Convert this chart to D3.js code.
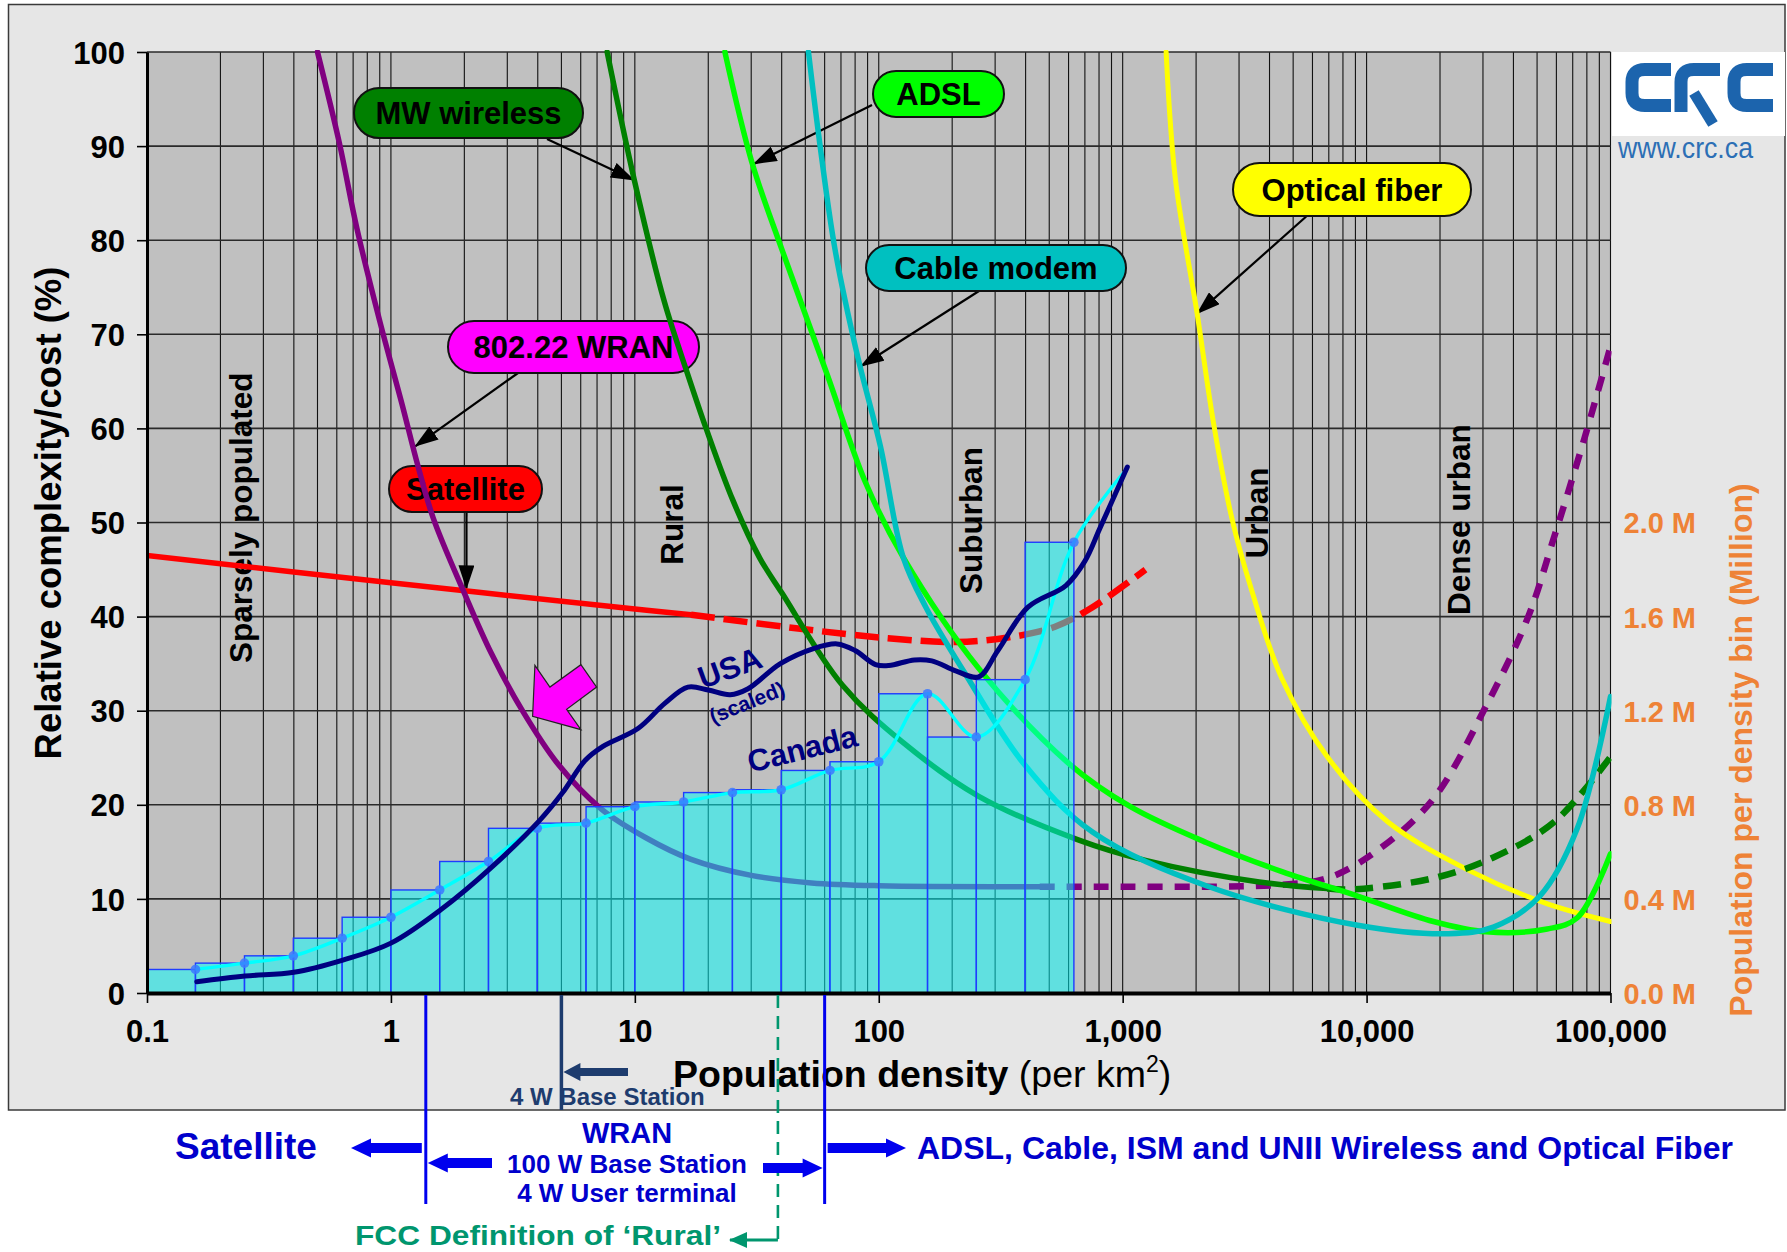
<!DOCTYPE html>
<html>
<head>
<meta charset="utf-8">
<script src="https://cdn.jsdelivr.net/npm/d3@7"></script>
<style>
  html, body { margin: 0; padding: 0; background: #fff; }
  svg { display: block; font-family: "Liberation Sans", Arial, Helvetica, sans-serif; }
</style>
</head>
<body>
<svg id="chart" width="1787" height="1252"></svg>
<script>
// ---------------------------------------------------------------
// Axis ticks
// ---------------------------------------------------------------
const xTickValues = [0.1, 1, 10, 100, 1000, 10000, 100000];
const xTickLabels = ["0.1", "1", "10", "100", "1,000", "10,000", "100,000"];
const yTickValues = [0, 10, 20, 30, 40, 50, 60, 70, 80, 90, 100];
const popTickValues = [0, 0.4, 0.8, 1.2, 1.6, 2.0];

// ---------------------------------------------------------------
// Canada: population per density bin (millions), 0.2-decade bins
// ---------------------------------------------------------------
const binEdges = [0.1, 0.158, 0.251, 0.398, 0.631, 1, 1.585, 2.512, 3.981, 6.31,
                  10, 15.85, 25.12, 39.81, 63.1, 100, 158.5, 251.2, 398.1, 631];
const canadaPop = [0.100, 0.127, 0.158, 0.233, 0.322, 0.438, 0.559, 0.700, 0.722, 0.792,
                   0.812, 0.852, 0.864, 0.946, 0.983, 1.272, 1.088, 1.332, 1.916];
const canadaTrendEnd = [1045, 2.23];

// ---------------------------------------------------------------
// Curves: [population density per km², relative complexity/cost %]
// ---------------------------------------------------------------
const usaScaled = [
  [0.16, 1.2], [0.252, 1.8], [0.4, 2.2], [0.635, 3.5], [1.0, 5.3], [1.61, 8.9],
  [2.57, 13.3], [4.09, 18.4], [5.06, 21.3], [6.25, 24.7], [7.4, 26.2], [10.3, 28.1],
  [13.3, 30.8], [16.5, 32.5], [20, 32.2], [24.6, 31.7], [29, 32.3], [39.5, 35.0],
  [54, 36.6], [67.5, 37.1], [80, 36.4], [97, 34.9], [110, 34.8], [140, 35.4],
  [165, 35.3], [208, 34.2], [257, 33.6], [308, 36.4], [409, 41.0], [585, 43.3],
  [700, 45.9], [807, 49.4], [1045, 55.9]
];
const satelliteSolid = [[0.1, 46.5], [1, 43.6], [10, 40.8], [17, 40.2]];
const satelliteDashed = [[17, 40.2], [49.7, 38.65], [109, 37.7], [208, 37.3], [343, 37.8],
                         [525, 38.9], [752, 41.0], [1240, 45.0]];
const wranSolid = [
  [0.5, 100], [0.615, 90.3], [0.726, 81.2], [0.9, 71.4], [1.11, 62.6], [1.285, 56.2],
  [1.49, 50.5], [2.0, 42.5], [2.58, 36.1], [3.46, 30.0], [4.85, 24.3], [7.25, 19.6],
  [11.1, 16.5], [17, 14.2], [30, 12.5], [53, 11.7], [100, 11.4], [457, 11.3]
];
const wranDashed = [
  [457, 11.3], [700, 11.3], [4470, 11.5], [6900, 12.2], [10600, 14.8], [18600, 20.5],
  [30900, 30.5], [46000, 40.0], [58000, 48.0], [78300, 59.0], [100000, 68.7]
];
const mwSolid = [
  [7.7, 100], [9.93, 86.5], [13.2, 73.5], [16.5, 65.7], [19.6, 60], [25.2, 52.4],
  [32.4, 46.3], [40.1, 42.5], [71, 32.7], [126, 26.6], [257, 20.9], [653, 16.3],
  [1240, 14.1], [3630, 11.8], [6900, 11.1]
];
const mwDashed = [[6900, 11.1], [8550, 11.0], [18800, 12.2], [33100, 14.4], [58900, 18.2],
                  [100000, 25.1]];
const adsl = [
  [23.4, 100], [30.1, 88.4], [40.1, 79], [61.5, 65.7], [88.1, 54.3], [126, 46.3],
  [257, 34.5], [607, 24.3], [1076, 19.8], [2200, 16.0], [4500, 12.9], [9190, 10.3],
  [18800, 7.6], [30900, 6.5], [55000, 6.8], [73100, 8.0], [100000, 14.8]
];
const cableModem = [
  [51.5, 100], [57.3, 90.3], [66.2, 79], [82, 67.6], [101.6, 58.1], [126, 46.3],
  [156, 41], [223, 34.2], [395, 24.3], [752, 17.1], [2200, 11.4], [9190, 7.2],
  [21700, 6.3], [33100, 7.0], [51300, 10.3], [73100, 17.5], [100000, 31.5]
];
const opticalFiber = [
  [1507, 100], [1645, 86.5], [2020, 72.2], [2360, 60.5], [2800, 50.5], [3370, 42.9],
  [4500, 33.4], [6900, 25.1], [12200, 18.2], [26900, 12.9], [54800, 9.5], [100000, 7.6]
];

// Density boundaries marked under the axis (per km²)
const wranLowerDensity = 1.39;
const baseStation4WDensity = 5;
const fccRuralDensity = 38.6;
const wranUpperDensity = 60;

// ---------------------------------------------------------------
// Layout
// ---------------------------------------------------------------
const W = 1787, H = 1252;
const P = { left: 147, right: 1610.5, top: 52, bottom: 993 };
const FONT = '"Liberation Sans", Arial, Helvetica, sans-serif';

const x = d3.scaleLog().domain([0.1, 100000]).range([P.left, P.right]);
const y = d3.scaleLinear().domain([0, 100]).range([P.bottom, P.top]);
const yPop = d3.scaleLinear().domain([0, 4]).range([P.bottom, P.top]);

const svg = d3.select("#chart");

svg.append("rect").attr("width", W).attr("height", H).attr("fill", "#fff");
// Grey framed panel holding the chart
svg.append("rect")
  .attr("x", 8.5).attr("y", 4.5).attr("width", 1776.5).attr("height", 1105.5)
  .attr("fill", "#e6e6e6").attr("stroke", "#3a3a3a").attr("stroke-width", 1.5);

// Plot area background
svg.append("rect")
  .attr("x", P.left).attr("y", P.top)
  .attr("width", P.right - P.left).attr("height", P.bottom - P.top)
  .attr("fill", "#c0c0c0");

const defs = svg.append("defs");
defs.append("clipPath").attr("id", "plotClip")
  .append("rect")
  .attr("x", P.left).attr("y", P.top - 2)
  .attr("width", P.right - P.left + 1).attr("height", P.bottom - P.top + 2);

// Grid
const grid = svg.append("g");
grid.selectAll("line.v").data(x.ticks()).join("line")
  .attr("x1", d => x(d)).attr("x2", d => x(d))
  .attr("y1", P.top).attr("y2", P.bottom)
  .attr("stroke", "#111").attr("stroke-width", 1.1);
grid.selectAll("line.h").data(yTickValues.slice(1)).join("line")
  .attr("x1", P.left).attr("x2", P.right)
  .attr("y1", d => y(d)).attr("y2", d => y(d))
  .attr("stroke", "#2a2a2a").attr("stroke-width", 1.6);

// Zone labels
const zones = [
  { text: "Sparsely populated", d: 0.243, v: 50.5 },
  { text: "Rural", d: 14.2, v: 49.8 },
  { text: "Suburban", d: 239, v: 50.2 },
  { text: "Urban", d: 3556, v: 51.0 },
  { text: "Dense urban", d: 23900, v: 50.3 }
];
svg.append("g").selectAll("text").data(zones).join("text")
  .attr("transform", z => `translate(${x(z.d)},${y(z.v)}) rotate(-90)`)
  .attr("text-anchor", "middle").attr("dy", "0.36em")
  .attr("font-family", FONT).attr("font-weight", "bold").attr("font-size", 31.5)
  .attr("fill", "#000").text(z => z.text);

// Arrow markers
defs.append("marker").attr("id", "blackHead")
  .attr("viewBox", "0 0 24 16").attr("refX", 23).attr("refY", 8)
  .attr("markerWidth", 24).attr("markerHeight", 16)
  .attr("markerUnits", "userSpaceOnUse").attr("orient", "auto")
  .append("path").attr("d", "M0,0 L24,8 L0,16 Z").attr("fill", "#000");
defs.append("marker").attr("id", "greenHead")
  .attr("viewBox", "0 0 18 16").attr("refX", 17).attr("refY", 8)
  .attr("markerWidth", 18).attr("markerHeight", 16)
  .attr("markerUnits", "userSpaceOnUse").attr("orient", "auto")
  .append("path").attr("d", "M0,0 L18,8 L0,16 Z").attr("fill", "#00966e");

// Callout boxes pointing at the curves
const callouts = [
  { text: "MW wireless", fill: "#008000", box: [354, 88, 229, 50], from: [547, 139], to: [9.92, 86.4] },
  { text: "ADSL", fill: "#00ff00", box: [873, 71, 131, 46], from: [872, 105], to: [30.7, 88.1] },
  { text: "Optical fiber", fill: "#ffff00", box: [1233, 163, 238, 53], from: [1309, 214], to: [2020, 72.2] },
  { text: "Cable modem", fill: "#00c0c0", box: [866, 245, 260, 46], from: [979, 291], to: [84.5, 66.6] },
  { text: "802.22 WRAN", fill: "#ff00ff", box: [448, 321, 251, 52], from: [518, 373], to: [1.258, 58.1] },
  { text: "Satellite", fill: "#ff0000", box: [389, 466, 153, 46], from: [466.5, 512], to: [2.04, 43.0] }
];
const cg = svg.append("g");
callouts.forEach(c => {
  cg.append("line")
    .attr("x1", c.from[0]).attr("y1", c.from[1])
    .attr("x2", x(c.to[0])).attr("y2", y(c.to[1]))
    .attr("stroke", "#000").attr("stroke-width", 2.2)
    .attr("marker-end", "url(#blackHead)");
  const [bx, by, bw, bh] = c.box;
  cg.append("rect")
    .attr("x", bx).attr("y", by).attr("width", bw).attr("height", bh)
    .attr("rx", bh / 2).attr("ry", bh / 2)
    .attr("fill", c.fill).attr("stroke", "#111").attr("stroke-width", 2);
  cg.append("text")
    .attr("x", bx + bw / 2).attr("y", by + bh / 2).attr("dy", "0.36em")
    .attr("text-anchor", "middle")
    .attr("font-family", FONT).attr("font-weight", "bold").attr("font-size", 31)
    .attr("fill", "#000").text(c.text);
});

// Technology curves (drawn beneath the translucent histogram)
const lineGen = d3.line()
  .x(d => x(d[0])).y(d => y(d[1]))
  .curve(d3.curveCatmullRom.alpha(0.5));
const curves = svg.append("g").attr("clip-path", "url(#plotClip)");
function drawCurve(data, color, width, dash) {
  curves.append("path").datum(data)
    .attr("d", lineGen).attr("fill", "none")
    .attr("stroke", color).attr("stroke-width", width)
    .attr("stroke-linejoin", "round")
    .attr("stroke-linecap", dash ? "butt" : "round")
    .attr("stroke-dasharray", dash || null);
}
drawCurve(satelliteSolid, "#ff0000", 5.5);
drawCurve(satelliteDashed, "#ff0000", 6.5, "24,9");
drawCurve(wranSolid, "#800080", 5.5);
drawCurve(wranDashed, "#800080", 6.5, "15,12");
drawCurve(opticalFiber, "#ffff00", 5);
drawCurve(mwSolid, "#008000", 5.5);
drawCurve(mwDashed, "#008000", 6.5, "18,10");
drawCurve(adsl, "#00ff00", 5.5);
drawCurve(cableModem, "#00c0c0", 5.5);

// Canada histogram
const bars = canadaPop.map((v, i) => ({ x0: binEdges[i], x1: binEdges[i + 1], v }));
svg.append("g").selectAll("rect").data(bars).join("rect")
  .attr("x", d => x(d.x0)).attr("width", d => x(d.x1) - x(d.x0))
  .attr("y", d => yPop(d.v)).attr("height", d => yPop(0) - yPop(d.v))
  .attr("fill", "rgba(0,255,255,0.5)")
  .attr("stroke", "#1e3cff").attr("stroke-width", 1.4);

// Canada trend line through the bin tops
const canadaPts = bars.map(d => [d.x1, d.v]);
const canadaLine = d3.line()
  .x(d => x(d[0])).y(d => yPop(d[1]))
  .curve(d3.curveCatmullRom.alpha(0.5));
svg.append("path").datum(canadaPts.concat([canadaTrendEnd]))
  .attr("d", canadaLine).attr("fill", "none")
  .attr("stroke", "#00ffff").attr("stroke-width", 3.4).attr("stroke-linejoin", "round");
svg.append("g").selectAll("circle").data(canadaPts).join("circle")
  .attr("cx", d => x(d[0])).attr("cy", d => yPop(d[1])).attr("r", 4.8)
  .attr("fill", "#3c78ff").attr("fill-opacity", 0.85);

// USA (scaled) curve
svg.append("path").datum(usaScaled)
  .attr("d", lineGen).attr("fill", "none")
  .attr("stroke", "#000080").attr("stroke-width", 5)
  .attr("stroke-linejoin", "round").attr("stroke-linecap", "round");

// Curve name labels
const curveLabels = [
  { text: "USA", d: 24.5, v: 34.6, rot: -20, size: 31 },
  { text: "(scaled)", d: 28.8, v: 30.9, rot: -22, size: 21 },
  { text: "Canada", d: 48.5, v: 26.0, rot: -14, size: 31 }
];
svg.append("g").selectAll("text").data(curveLabels).join("text")
  .attr("transform", l => `translate(${x(l.d)},${y(l.v)}) rotate(${l.rot})`)
  .attr("text-anchor", "middle").attr("dy", "0.36em")
  .attr("font-family", FONT).attr("font-weight", "bold")
  .attr("font-size", l => l.size).attr("fill", "#000080").text(l => l.text);

// Magenta block arrow pointing at the WRAN curve
const magentaTip = [3.81, 29.4];
const magentaShape = [[0, 0], [2.3, -51], [17.3, -29.3], [48.3, -51.7], [64, -29.3], [34, -7], [48.3, 13.3]];
svg.append("polygon")
  .attr("points", magentaShape.map(p => [x(magentaTip[0]) + p[0], y(magentaTip[1]) + p[1]].join(",")).join(" "))
  .attr("fill", "#ff00ff").attr("stroke", "#222").attr("stroke-width", 1.2)
  .attr("stroke-linejoin", "miter");

// Axes
const yAxis = svg.append("g").attr("transform", `translate(${P.left},0)`)
  .call(d3.axisLeft(y).tickValues(yTickValues).tickSize(10).tickSizeOuter(0).tickPadding(12));
yAxis.select(".domain").attr("stroke", "#000").attr("stroke-width", 3);
yAxis.selectAll(".tick line").attr("stroke", "#000").attr("stroke-width", 1.6);
yAxis.selectAll(".tick text")
  .attr("font-family", FONT).attr("font-weight", "bold").attr("font-size", 31)
  .attr("fill", "#000").attr("dy", "0.36em");

const xAxis = svg.append("g").attr("transform", `translate(0,${P.bottom})`)
  .call(d3.axisBottom(x).tickValues(xTickValues)
    .tickFormat((d, i) => xTickLabels[i]).tickSize(10).tickSizeOuter(0));
xAxis.select(".domain").attr("stroke", "#000").attr("stroke-width", 4);
xAxis.selectAll(".tick line").attr("stroke", "#000").attr("stroke-width", 1.6);
xAxis.selectAll(".tick text")
  .attr("font-family", FONT).attr("font-weight", "bold").attr("font-size", 31)
  .attr("fill", "#000").attr("y", 49).attr("dy", 0);

const popAxis = svg.append("g").attr("transform", `translate(${P.right},0)`)
  .call(d3.axisRight(yPop).tickValues(popTickValues).tickSize(0).tickPadding(13)
    .tickFormat(d => d.toFixed(1) + " M"));
popAxis.select(".domain").remove();
popAxis.selectAll(".tick text")
  .attr("font-family", FONT).attr("font-weight", "bold").attr("font-size", 29)
  .attr("fill", "#ee8236").attr("dy", "0.36em");

// Axis titles
svg.append("text")
  .attr("transform", "translate(48,513) rotate(-90)")
  .attr("text-anchor", "middle").attr("dy", "0.36em")
  .attr("font-family", FONT).attr("font-weight", "bold").attr("font-size", 36.5)
  .attr("fill", "#000").text("Relative complexity/cost (%)");

svg.append("text")
  .attr("transform", "translate(1740,750) rotate(-90)")
  .attr("text-anchor", "middle").attr("dy", "0.36em")
  .attr("font-family", FONT).attr("font-weight", "bold").attr("font-size", 32)
  .attr("fill", "#ee8236").text("Population per density bin (Million)");

const xTitle = svg.append("text")
  .attr("x", 673).attr("y", 1087)
  .attr("font-family", FONT).attr("font-size", 37.5).attr("fill", "#000");
xTitle.append("tspan").attr("font-weight", "bold").text("Population density");
xTitle.append("tspan").text(" (per km");
xTitle.append("tspan").attr("font-size", 23).attr("dy", -15).text("2");
xTitle.append("tspan").attr("dy", 15).text(")");

// Logo block: stylised "CRC" mark and web address
svg.append("rect").attr("x", 1612).attr("y", 52).attr("width", 173).attr("height", 84).attr("fill", "#fff");
const logo = svg.append("g").attr("fill", "none").attr("stroke", "#1c64ad")
  .attr("stroke-width", 13).attr("stroke-linecap", "butt");
logo.append("path").attr("d", "M1671,69.5 H1645 Q1632,69.5 1632,82 V93 Q1632,105.5 1645,105.5 H1671");
logo.append("path").attr("d", "M1681,112 V82 Q1681,69.5 1694,69.5 H1720");
logo.append("path").attr("d", "M1694,93 L1713,124").attr("stroke-width", 11);
logo.append("path").attr("d", "M1773,69.5 H1747 Q1734,69.5 1734,82 V93 Q1734,105.5 1747,105.5 H1773");
svg.append("text")
  .attr("x", 1618).attr("y", 158)
  .attr("textLength", 135).attr("lengthAdjust", "spacingAndGlyphs")
  .attr("font-family", FONT).attr("font-size", 29)
  .attr("fill", "#2c6fb5").text("www.crc.ca");

// ---------------------------------------------------------------
// Deployment ranges under the density axis
// ---------------------------------------------------------------
const BLUE = "#0000ee";
const TEXT_BLUE = "#0000cc";
const NAVY = "#1e3c6e";
const FCC_GREEN = "#00966e";

function blockArrow(tipX, tailX, cy, shaft, headW, headL, color) {
  const dir = tailX > tipX ? 1 : -1;
  const hx = tipX + dir * headL;
  const pts = [
    [tipX, cy], [hx, cy - headW / 2], [hx, cy - shaft / 2], [tailX, cy - shaft / 2],
    [tailX, cy + shaft / 2], [hx, cy + shaft / 2], [hx, cy + headW / 2]
  ];
  svg.append("polygon").attr("points", pts.map(p => p.join(",")).join(" ")).attr("fill", color);
}

const xLow = x(wranLowerDensity), xBase = x(baseStation4WDensity);
const xFcc = x(fccRuralDensity), xHigh = x(wranUpperDensity);

svg.append("line").attr("x1", xLow).attr("x2", xLow).attr("y1", P.bottom + 2).attr("y2", 1204)
  .attr("stroke", BLUE).attr("stroke-width", 3);
svg.append("line").attr("x1", xHigh).attr("x2", xHigh).attr("y1", P.bottom + 2).attr("y2", 1204)
  .attr("stroke", BLUE).attr("stroke-width", 3);
svg.append("line").attr("x1", xBase).attr("x2", xBase).attr("y1", P.bottom + 2).attr("y2", 1110)
  .attr("stroke", NAVY).attr("stroke-width", 3.5);
svg.append("line").attr("x1", xFcc).attr("x2", xFcc).attr("y1", P.bottom + 2).attr("y2", 1240)
  .attr("stroke", FCC_GREEN).attr("stroke-width", 2.6).attr("stroke-dasharray", "13,8");
svg.append("line").attr("x1", xFcc).attr("x2", 730).attr("y1", 1240).attr("y2", 1240)
  .attr("stroke", FCC_GREEN).attr("stroke-width", 3).attr("marker-end", "url(#greenHead)");

blockArrow(xBase + 2, 628, 1072, 8, 18, 17, NAVY);
blockArrow(351, xLow - 4, 1148, 10, 19, 20, BLUE);
blockArrow(xLow + 2, 492, 1163, 10, 19, 20, BLUE);
blockArrow(xHigh - 2, 763, 1168, 10, 19, 20, BLUE);
blockArrow(906, xHigh + 3, 1148, 10, 19, 20, BLUE);

function label(txt, px, py, size, color, anchor, len) {
  const t = svg.append("text").attr("x", px).attr("y", py)
    .attr("text-anchor", anchor || "middle")
    .attr("font-family", FONT).attr("font-weight", "bold").attr("font-size", size)
    .attr("fill", color).text(txt);
  if (len) t.attr("textLength", len).attr("lengthAdjust", "spacingAndGlyphs");
}
label("4 W Base Station", 510, 1105, 24, NAVY, "start");
label("Satellite", 246, 1159, 37, TEXT_BLUE);
label("WRAN", 627, 1143, 29, TEXT_BLUE);
label("100 W Base Station", 627, 1173, 26, TEXT_BLUE);
label("4 W User terminal", 627, 1202, 26, TEXT_BLUE);
label("ADSL, Cable, ISM and UNII Wireless and Optical Fiber", 917, 1159, 32, TEXT_BLUE, "start");
label("FCC Definition of \u2018Rural\u2019", 355, 1245, 28, FCC_GREEN, "start", 366);
</script>
</body>
</html>
